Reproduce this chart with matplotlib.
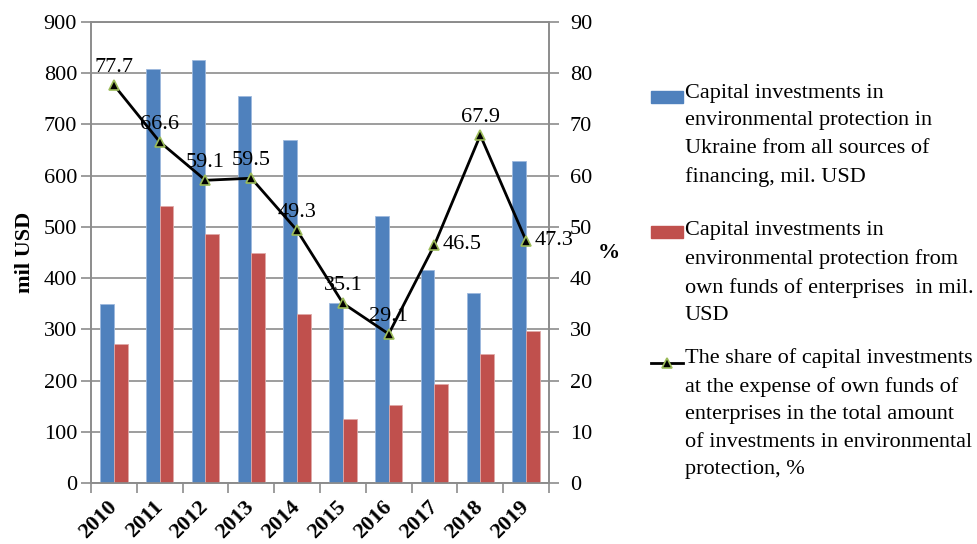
import numpy as np
import matplotlib.pyplot as plt
from matplotlib.patches import Rectangle
from matplotlib.lines import Line2D

plt.rcParams["font.family"] = ["Liberation Serif", "DejaVu Serif"]

years = ["2010", "2011", "2012", "2013", "2014", "2015", "2016", "2017", "2018", "2019"]
total_inv = [349, 808, 825, 755, 670, 351, 522, 415, 370, 628]
own_inv = [271, 540, 487, 450, 330, 124, 153, 193, 252, 297]
share_pct = [77.7, 66.6, 59.1, 59.5, 49.3, 35.1, 29.1, 46.5, 67.9, 47.3]

legend_labels = [
    "Capital investments in\nenvironmental protection in\nUkraine from all sources of\nfinancing, mil. USD",
    "Capital investments in\nenvironmental protection from\nown funds of enterprises  in mil.\nUSD",
    "The share of capital investments\nat the expense of own funds of\nenterprises in the total amount\nof investments in environmental\nprotection, %",
]

BLUE = "#4F81BD"
RED = "#C0504D"
GRID = "#8C8C8C"
W, H = 978, 544

fig = plt.figure(figsize=(W / 100, H / 100), dpi=100)
ax = fig.add_axes([91 / W, 1 - 483 / H, (549 - 91) / W, (483 - 22) / H])
ax2 = ax.twinx()

x = np.arange(len(years))
bw = 0.3
ax.bar(x - bw / 2, total_inv, bw, color=BLUE, edgecolor="#9DB9DD", linewidth=0.6, zorder=3)
ax.bar(x + bw / 2, own_inv, bw, color=RED, edgecolor="#E0A9A8", linewidth=0.6, zorder=3)

ax.set_xlim(-0.5, len(years) - 0.5)
ax.set_ylim(0, 900)
ax.set_yticks(np.arange(0, 901, 100))
ax.grid(axis="y", color=GRID, linewidth=1.2, zorder=0)
ax.set_axisbelow(True)

ax.set_xticks(x)
ax.set_xticklabels(years, rotation=45, ha="right", va="center", rotation_mode="anchor",
                   fontsize=16, fontweight="bold")
ax.tick_params(axis="x", which="major", length=0, pad=15)
ax.set_xticks(np.arange(-0.5, len(years)), minor=True)
ax.tick_params(axis="x", which="minor", length=7, color=GRID, width=1.2)
ax.tick_params(axis="y", labelsize=16, length=7, color=GRID, width=1.2, pad=3)
ax.set_ylabel("mil USD", fontsize=16, fontweight="bold", labelpad=6)

ax2.plot(x, share_pct, color="black", linewidth=2, marker="^", markersize=7,
         markerfacecolor="black", markeredgecolor="#9BBB59", markeredgewidth=1.2, zorder=5)
ax2.set_ylim(0, 90)
ax2.set_yticks(np.arange(0, 91, 10))
ax2.tick_params(axis="y", labelsize=16, length=7, color=GRID, width=1.2, pad=8)
ax2.set_ylabel("%", fontsize=16, fontweight="bold", rotation=0, labelpad=12, va="center")

right_side = {"2017", "2019"}
for xi, v, yr in zip(x, share_pct, years):
    if yr in right_side:
        ax2.annotate(f"{v}", (xi, v), xytext=(6, 0), textcoords="offset points",
                     ha="left", va="center", fontsize=16)
    else:
        ax2.annotate(f"{v}", (xi, v), xytext=(0, 6), textcoords="offset points",
                     ha="center", va="bottom", fontsize=16)

for a in (ax, ax2):
    for s in a.spines.values():
        s.set_color(GRID)
        s.set_linewidth(1.2)

# legend drawn by hand so the keys line up with the first text line
def fy(py):
    return 1 - py / H

fig.add_artist(Rectangle((651 / W, fy(103)), 32 / W, 12 / H, transform=fig.transFigure,
                         color=BLUE))
fig.add_artist(Rectangle((651 / W, fy(238)), 32 / W, 12 / H, transform=fig.transFigure,
                         color=RED))
fig.add_artist(Line2D([651 / W, 683 / W], [fy(363), fy(363)], transform=fig.transFigure,
                      color="black", linewidth=2))
fig.add_artist(Line2D([667 / W], [fy(363)], transform=fig.transFigure, marker="^",
                      markersize=7, markerfacecolor="black", markeredgecolor="#9BBB59",
                      markeredgewidth=1.2))
for lbl, ty in zip(legend_labels, [84, 221, 348]):
    fig.text(685 / W, fy(ty), lbl, fontsize=16, va="top", ha="left", linespacing=1.6)

fig.savefig("out.png", dpi=100)
